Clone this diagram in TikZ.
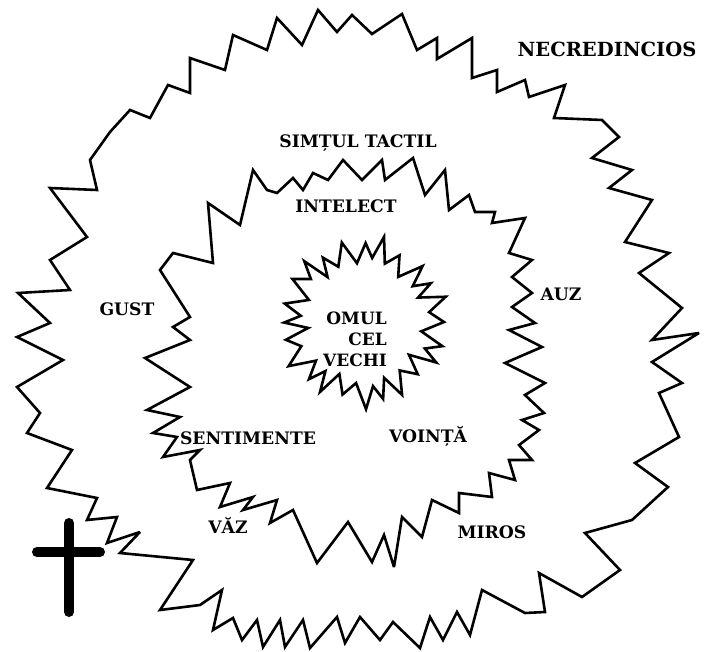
\documentclass[tikz,border=0pt]{standalone}
\usepackage{fontspec}
\setmainfont{DejaVu Serif}
\begin{document}
\begin{tikzpicture}[x=1pt,y=-1pt,
  jag/.style={draw=black,line width=2.6pt,line join=miter,miter limit=4},
  lab/.style={font=\fontsize{17.2}{20}\selectfont\bfseries,inner sep=0pt,anchor=base},
  crossbar/.style={draw=black,line width=10pt,line cap=round}]
\useasboundingbox[fill=white] (0,0) rectangle (704,652);
% outer ring
\draw[jag] (150,118)--(168,85)--(190,93)--(190,58)--(225,70)--(233,35)--(267,50)--(277,18)--(302,45)--(318,10)--(337,32)--(352,15)--(372,34)--(402,14)--(417,50)--(437,38)--(437,59)--(472,38)--(472,78)--(497,70)--(497,92)--(525,80)--(529,97)--(565,85)--(554,118)--(602,120)--(619,137)--(592,158)--(632,170)--(609,188)--(652,200)--(625,242)--(669,253)--(639,273)--(682,308)--(652,340)--(699,333)--(652,362)--(682,383)--(659,393)--(679,437)--(635,463)--(668,487)--(632,520)--(585,533)--(620,570)--(582,597)--(539,573)--(545,612)--(525,613)--(482,590)--(470,635)--(457,612)--(443,640)--(430,617)--(420,648)--(393,622)--(380,640)--(360,617)--(345,643)--(337,617)--(310,648)--(303,620)--(285,647)--(280,620)--(263,647)--(257,620)--(242,640)--(233,618)--(213,630)--(222,590)--(200,605)--(160,610)--(193,560)--(120,553)--(140,532)--(107,543)--(117,517)--(87,520)--(97,498)--(47,488)--(72,450)--(27,433)--(40,413)--(17,387)--(63,360)--(17,337)--(50,323)--(18,293)--(70,290)--(50,260)--(87,237)--(50,188)--(97,190)--(90,160)--(110,132)--(130,110)--cycle;
% middle ring
\draw[jag] (145,358)--(190,340)--(173,327)--(190,317)--(160,270)--(173,253)--(213,263)--(208,203)--(240,225)--(253,170)--(267,190)--(277,193)--(293,178)--(303,190)--(313,173)--(328,180)--(343,160)--(362,180)--(382,160)--(385,180)--(413,158)--(425,195)--(445,170)--(449,210)--(469,195)--(475,212)--(495,212)--(492,223)--(525,218)--(509,253)--(532,260)--(512,277)--(532,293)--(512,307)--(535,323)--(509,330)--(542,347)--(505,363)--(545,383)--(525,395)--(544,413)--(522,420)--(539,430)--(519,445)--(532,460)--(509,460)--(515,480)--(489,473)--(492,497)--(459,493)--(459,513)--(432,500)--(422,537)--(402,517)--(394,567)--(384,535)--(372,562)--(348,522)--(317,563)--(293,510)--(270,523)--(277,500)--(243,510)--(253,497)--(220,507)--(230,483)--(197,490)--(190,460)--(200,450)--(163,457)--(177,437)--(153,433)--(180,417)--(147,410)--(190,387)--cycle;
% inner ring
\begin{scope}[shift={(363,322)}]
\draw[jag] (0:{71+10}) foreach \i in {1,...,47}{ -- ({\i*7.5+2*sin(\i*53)}:{71+cos(180*\i)*(10+4*sin(\i*97))+3*sin(\i*41)}) } -- cycle;
\end{scope}
% labels
\node[lab,font=\fontsize{19.5}{22}\selectfont\bfseries] (necr) at (607,57) {NECREDINCIOS};
\node[lab] (tact) at (358,148) {SIMȚUL TACTIL};
\node[lab] (intel) at (346,213) {INTELECT};
\node[font=\fontsize{17}{21}\selectfont\bfseries,inner sep=0pt,align=right,anchor=east] (omul) at (387,339) {OMUL\\CEL\\VECHI};
\node[lab] (gust) at (127,316) {GUST};
\node[lab] (auz) at (561,301) {AUZ};
\node[lab] (sent) at (248,444) {SENTIMENTE};
\node[lab] (voin) at (428,442) {VOINȚĂ};
\node[lab] (vaz) at (228,533) {VĂZ};
\node[lab] (miros) at (492,538) {MIROS};
% cross
\draw[crossbar] (69,523) -- (69,612);
\draw[crossbar] (37,552) -- (100,552);
\end{tikzpicture}
\end{document}
